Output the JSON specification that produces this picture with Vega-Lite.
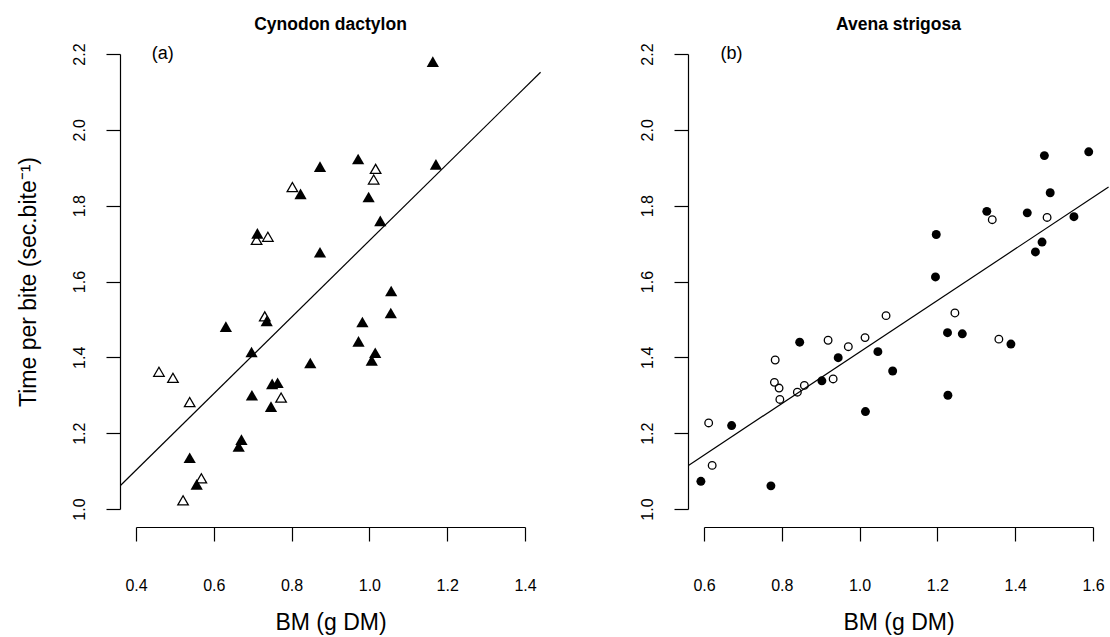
{
  "$schema": "https://vega.github.io/schema/vega-lite/v6.json",
  "background": "white",
  "padding": {"left": 17, "top": 16, "right": 0, "bottom": 5},
  "spacing": 179,
  "bounds": "flush",
  "config": {
    "font": "Liberation Sans",
    "view": {"stroke": null},
    "axis": {"grid": false, "domainColor": "#000", "tickColor": "#000", "labelColor": "#000", "titleColor": "#000", "labelFont": "Liberation Sans", "titleFont": "Liberation Sans", "labelFontSize": 16, "titleFontSize": 23, "titleFontWeight": "normal", "tickSize": 14, "domainWidth": 1.2, "tickWidth": 1.2, "labelFlush": false, "labelOverlap": false},
    "axisX": {"offset": 18, "labelPadding": 36, "titlePadding": 18},
    "axisY": {"offset": 16, "labelAngle": -90, "labelPadding": 19, "titlePadding": 31},
    "title": {"fontSize": 17.5, "fontWeight": "bold", "font": "Liberation Sans", "color": "#000", "offset": 9, "anchor": "middle"}
  },
  "datasets": {
    "cynodon": [
      {"bm": 1.163, "tpb": 2.180, "type": "filled"},
      {"bm": 0.873, "tpb": 1.903, "type": "filled"},
      {"bm": 0.971, "tpb": 1.923, "type": "filled"},
      {"bm": 1.171, "tpb": 1.909, "type": "filled"},
      {"bm": 0.823, "tpb": 1.831, "type": "filled"},
      {"bm": 0.998, "tpb": 1.823, "type": "filled"},
      {"bm": 1.028, "tpb": 1.760, "type": "filled"},
      {"bm": 0.712, "tpb": 1.727, "type": "filled"},
      {"bm": 0.873, "tpb": 1.677, "type": "filled"},
      {"bm": 1.056, "tpb": 1.575, "type": "filled"},
      {"bm": 1.055, "tpb": 1.517, "type": "filled"},
      {"bm": 0.982, "tpb": 1.493, "type": "filled"},
      {"bm": 0.972, "tpb": 1.442, "type": "filled"},
      {"bm": 1.015, "tpb": 1.412, "type": "filled"},
      {"bm": 1.006, "tpb": 1.392, "type": "filled"},
      {"bm": 0.631, "tpb": 1.481, "type": "filled"},
      {"bm": 0.736, "tpb": 1.496, "type": "filled"},
      {"bm": 0.697, "tpb": 1.414, "type": "filled"},
      {"bm": 0.848, "tpb": 1.385, "type": "filled"},
      {"bm": 0.750, "tpb": 1.330, "type": "filled"},
      {"bm": 0.764, "tpb": 1.333, "type": "filled"},
      {"bm": 0.698, "tpb": 1.300, "type": "filled"},
      {"bm": 0.747, "tpb": 1.270, "type": "filled"},
      {"bm": 0.671, "tpb": 1.183, "type": "filled"},
      {"bm": 0.664, "tpb": 1.165, "type": "filled"},
      {"bm": 0.538, "tpb": 1.135, "type": "filled"},
      {"bm": 0.556, "tpb": 1.065, "type": "filled"},
      {"bm": 1.016, "tpb": 1.897, "type": "open"},
      {"bm": 1.011, "tpb": 1.869, "type": "open"},
      {"bm": 0.802, "tpb": 1.849, "type": "open"},
      {"bm": 0.710, "tpb": 1.710, "type": "open"},
      {"bm": 0.739, "tpb": 1.718, "type": "open"},
      {"bm": 0.731, "tpb": 1.508, "type": "open"},
      {"bm": 0.459, "tpb": 1.362, "type": "open"},
      {"bm": 0.495, "tpb": 1.346, "type": "open"},
      {"bm": 0.538, "tpb": 1.282, "type": "open"},
      {"bm": 0.773, "tpb": 1.294, "type": "open"},
      {"bm": 0.568, "tpb": 1.081, "type": "open"},
      {"bm": 0.521, "tpb": 1.023, "type": "open"}
    ],
    "avena": [
      {"bm": 1.327, "tpb": 1.785, "type": "filled"},
      {"bm": 1.431, "tpb": 1.781, "type": "filled"},
      {"bm": 1.197, "tpb": 1.724, "type": "filled"},
      {"bm": 1.195, "tpb": 1.612, "type": "filled"},
      {"bm": 1.226, "tpb": 1.465, "type": "filled"},
      {"bm": 1.264, "tpb": 1.462, "type": "filled"},
      {"bm": 1.389, "tpb": 1.435, "type": "filled"},
      {"bm": 1.227, "tpb": 1.300, "type": "filled"},
      {"bm": 1.047, "tpb": 1.415, "type": "filled"},
      {"bm": 1.085, "tpb": 1.364, "type": "filled"},
      {"bm": 1.015, "tpb": 1.257, "type": "filled"},
      {"bm": 0.945, "tpb": 1.399, "type": "filled"},
      {"bm": 0.903, "tpb": 1.338, "type": "filled"},
      {"bm": 0.846, "tpb": 1.440, "type": "filled"},
      {"bm": 0.671, "tpb": 1.220, "type": "filled"},
      {"bm": 0.592, "tpb": 1.073, "type": "filled"},
      {"bm": 0.772, "tpb": 1.061, "type": "filled"},
      {"bm": 1.475, "tpb": 1.932, "type": "filled"},
      {"bm": 1.589, "tpb": 1.942, "type": "filled"},
      {"bm": 1.490, "tpb": 1.834, "type": "filled"},
      {"bm": 1.551, "tpb": 1.771, "type": "filled"},
      {"bm": 1.469, "tpb": 1.704, "type": "filled"},
      {"bm": 1.452, "tpb": 1.678, "type": "filled"},
      {"bm": 1.341, "tpb": 1.763, "type": "open"},
      {"bm": 1.245, "tpb": 1.517, "type": "open"},
      {"bm": 1.358, "tpb": 1.448, "type": "open"},
      {"bm": 1.068, "tpb": 1.510, "type": "open"},
      {"bm": 1.014, "tpb": 1.452, "type": "open"},
      {"bm": 0.971, "tpb": 1.428, "type": "open"},
      {"bm": 0.919, "tpb": 1.445, "type": "open"},
      {"bm": 0.932, "tpb": 1.343, "type": "open"},
      {"bm": 0.858, "tpb": 1.326, "type": "open"},
      {"bm": 0.840, "tpb": 1.308, "type": "open"},
      {"bm": 0.783, "tpb": 1.393, "type": "open"},
      {"bm": 0.781, "tpb": 1.334, "type": "open"},
      {"bm": 0.793, "tpb": 1.319, "type": "open"},
      {"bm": 0.795, "tpb": 1.289, "type": "open"},
      {"bm": 0.612, "tpb": 1.227, "type": "open"},
      {"bm": 0.621, "tpb": 1.115, "type": "open"},
      {"bm": 1.482, "tpb": 1.769, "type": "open"}
    ],
    "lineA": [
      {"bm": 0.36, "tpb": 1.062},
      {"bm": 1.44, "tpb": 2.152}
    ],
    "lineB": [
      {"bm": 0.56, "tpb": 1.115},
      {"bm": 1.64, "tpb": 1.849}
    ],
    "labelA": [{"bm": 0.469, "tpb": 2.2, "lab": "(a)"}],
    "labelB": [{"bm": 0.671, "tpb": 2.2, "lab": "(b)"}]
  },
  "hconcat": [
    {
      "width": 389,
      "height": 455,
      "title": "Cynodon dactylon",
      "encoding": {
        "x": {"field": "bm", "type": "quantitative", "scale": {"domain": [0.4, 1.4], "nice": false, "zero": false}, "axis": {"values": [0.4, 0.6, 0.8, 1.0, 1.2, 1.4], "format": ".1f", "title": "BM (g DM)"}},
        "y": {"field": "tpb", "type": "quantitative", "scale": {"domain": [1.0, 2.2], "nice": false, "zero": false}, "axis": {"values": [1.0, 1.2, 1.4, 1.6, 1.8, 2.0, 2.2], "format": ".1f", "title": "Time per bite (sec.bite⁻¹)"}}
      },
      "layer": [
        {"data": {"name": "lineA"}, "mark": {"type": "line", "color": "#000", "strokeWidth": 1.2}},
        {"data": {"name": "cynodon"}, "transform": [{"filter": "datum.type === 'open'"}], "mark": {"type": "point", "shape": "triangle-up", "filled": false, "stroke": "#000", "strokeWidth": 1.3, "size": 110, "opacity": 1}},
        {"data": {"name": "cynodon"}, "transform": [{"filter": "datum.type === 'filled'"}], "mark": {"type": "point", "shape": "triangle-up", "filled": true, "color": "#000", "strokeWidth": 0, "size": 150, "opacity": 1}},
        {"data": {"name": "labelA"}, "mark": {"type": "text", "fontSize": 18, "align": "center", "baseline": "middle", "color": "#000"}, "encoding": {"text": {"field": "lab"}}}
      ]
    },
    {
      "width": 389,
      "height": 455,
      "title": "Avena strigosa",
      "encoding": {
        "x": {"field": "bm", "type": "quantitative", "scale": {"domain": [0.6, 1.6], "nice": false, "zero": false}, "axis": {"values": [0.6, 0.8, 1.0, 1.2, 1.4, 1.6], "format": ".1f", "title": "BM (g DM)"}},
        "y": {"field": "tpb", "type": "quantitative", "scale": {"domain": [1.0, 2.2], "nice": false, "zero": false}, "axis": {"values": [1.0, 1.2, 1.4, 1.6, 1.8, 2.0, 2.2], "format": ".1f", "title": null}}
      },
      "layer": [
        {"data": {"name": "lineB"}, "mark": {"type": "line", "color": "#000", "strokeWidth": 1.2}},
        {"data": {"name": "avena"}, "transform": [{"filter": "datum.type === 'open'"}], "mark": {"type": "point", "shape": "circle", "filled": false, "stroke": "#000", "strokeWidth": 1.3, "size": 58, "opacity": 1}},
        {"data": {"name": "avena"}, "transform": [{"filter": "datum.type === 'filled'"}], "mark": {"type": "point", "shape": "circle", "filled": true, "color": "#000", "strokeWidth": 0, "size": 80, "opacity": 1}},
        {"data": {"name": "labelB"}, "mark": {"type": "text", "fontSize": 18, "align": "center", "baseline": "middle", "color": "#000"}, "encoding": {"text": {"field": "lab"}}}
      ]
    }
  ]
}
